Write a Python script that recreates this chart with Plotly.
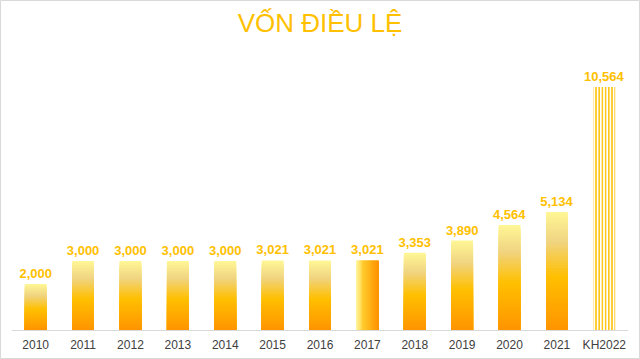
import plotly.graph_objects as go

categories = ["2010", "2011", "2012", "2013", "2014", "2015", "2016", "2017",
              "2018", "2019", "2020", "2021", "KH2022"]
values = [2000, 3000, 3000, 3000, 3000, 3021, 3021, 3021, 3353, 3890, 4564, 5134, 10564]
labels = [f"{v:,}" for v in values]
horizontal_cat = "2017"
striped_cat = "KH2022"

BAR_W = 0.46


def interp(stops, t):
    for (t0, c0), (t1, c1) in zip(stops, stops[1:]):
        if t0 <= t <= t1:
            f = (t - t0) / (t1 - t0) if t1 > t0 else 0
            return "rgb(%d,%d,%d)" % tuple(round(a + (b - a) * f) for a, b in zip(c0, c1))
    return "rgb(%d,%d,%d)" % stops[-1][1]


vstops = [(0.0, (255, 148, 0)), (0.45, (255, 192, 0)), (0.75, (240, 212, 130)), (1.0, (255, 247, 150))]
hstops = [(0.0, (255, 247, 160)), (0.35, (255, 200, 40)), (1.0, (255, 148, 0))]

fig = go.Figure()

# vertical gradient bars (overlay of decreasing heights)
N = 40
for k in range(N):
    frac = (N - k) / N
    ys = [v * frac if c not in (horizontal_cat, striped_cat) else None
          for c, v in zip(categories, values)]
    fig.add_trace(go.Bar(x=categories, y=ys, width=BAR_W,
                         marker=dict(color=interp(vstops, frac - 0.5 / N), line=dict(width=0)),
                         hoverinfo="skip", showlegend=False))

# horizontal gradient bar (2017)
M = 24
i17 = categories.index(horizontal_cat)
for j in range(M):
    fig.add_trace(go.Bar(x=[horizontal_cat], y=[values[i17]], width=BAR_W / M * 1.05,
                         offset=-BAR_W / 2 + j * BAR_W / M,
                         marker=dict(color=interp(hstops, (j + 0.5) / M), line=dict(width=0)),
                         hoverinfo="skip", showlegend=False))

# striped bar (plan)
i22 = categories.index(striped_cat)
fig.add_trace(go.Bar(x=[striped_cat], y=[values[i22]], width=BAR_W,
                     marker=dict(color="white", line=dict(width=0),
                                 pattern=dict(shape="|", fgcolor="#FFC000", bgcolor="white",
                                              size=3.2, solidity=0.45, fillmode="replace")),
                     hoverinfo="skip", showlegend=False))

# labels
fig.add_trace(go.Bar(x=categories, y=values, width=BAR_W, text=labels,
                     textposition="outside", cliponaxis=False, constraintext="none",
                     textfont=dict(color="#FFC000", size=13, family="Liberation Sans"),
                     texttemplate="<b>%{text}</b>",
                     marker=dict(color="rgba(0,0,0,0)", line=dict(width=0)),
                     hoverinfo="skip", showlegend=False))

L, R, T, B = 12, 12, 50, 29
W, H = 640, 359
pw, ph = W - L - R, H - T - B

fig.update_layout(
    width=W, height=H,
    margin=dict(l=L, r=R, t=T, b=B, autoexpand=False),
    barmode="overlay",
    plot_bgcolor="white", paper_bgcolor="white",
    title=dict(text="VỐN ĐIỀU LỆ", x=0.5, xanchor="center", y=1 - 23 / H, yanchor="middle",
               font=dict(family="Liberation Sans", size=26, color="#FFC000")),
    xaxis=dict(type="category", showgrid=False, showline=True, linecolor="#D9D9D9", linewidth=1,
               ticks="", ticklabelstandoff=4, automargin=False,
               tickfont=dict(family="Liberation Sans", size=12, color="#404040")),
    yaxis=dict(range=[0, 12170], visible=False, showgrid=False, automargin=False),
    shapes=[dict(type="rect", xref="paper", yref="paper",
                 x0=-(L - 0.5) / pw, x1=1 + (R - 0.5) / pw,
                 y0=-(B - 0.5) / ph, y1=1 + (T - 0.5) / ph,
                 line=dict(color="#D9D9D9", width=1), layer="below")],
)

fig.write_html("out.html", config={"displayModeBar": False},
               post_script="document.body.style.margin='0';document.body.style.padding='0';")
